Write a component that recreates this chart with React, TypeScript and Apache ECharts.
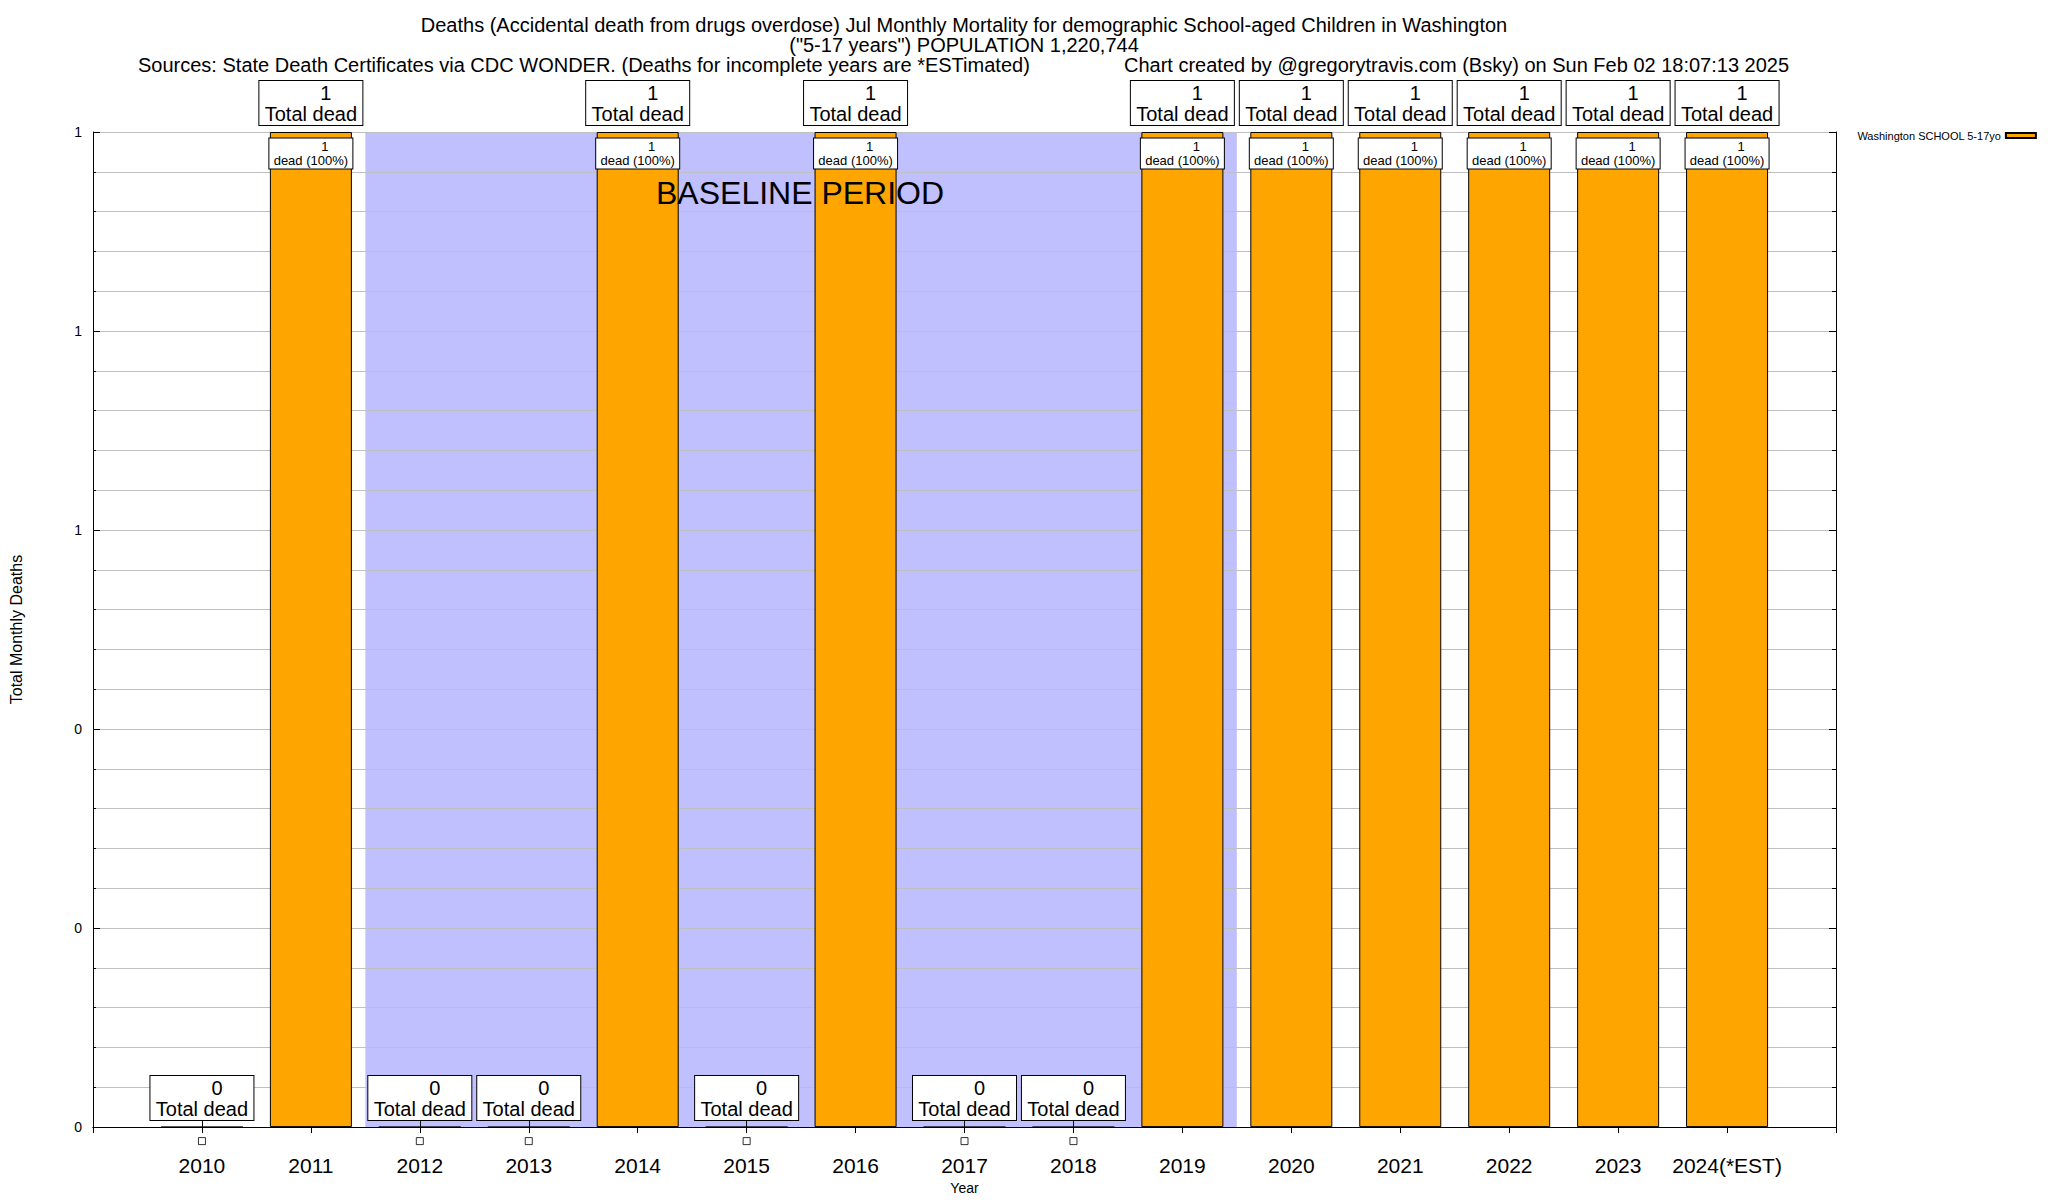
import React, { useEffect, useRef } from "react";
import * as echarts from "echarts";

const YEARS = [2010, 2011, 2012, 2013, 2014, 2015, 2016, 2017, 2018, 2019, 2020, 2021, 2022, 2023, 2024];
const DEATHS = [0, 1, 0, 0, 1, 0, 1, 0, 0, 1, 1, 1, 1, 1, 1];
const SHARE_LABELS = ["", "100%", "", "", "100%", "", "100%", "", "", "100%", "100%", "100%", "100%", "100%", "100%"];
const BASELINE_START = 2011.5;
const BASELINE_END = 2019.5;
const X_MIN = 2009;
const X_MAX = 2025;
const EST_YEAR = 2024;

const TITLE_1 = "Deaths (Accidental death from drugs overdose) Jul Monthly Mortality for demographic School-aged Children in Washington";
const TITLE_2 = '("5-17 years") POPULATION 1,220,744';
const TITLE_3A = "Sources: State Death Certificates via CDC WONDER. (Deaths for incomplete years are *ESTimated)";
const TITLE_3B = "Chart created by @gregorytravis.com (Bsky) on Sun Feb 02 18:07:13 2025";
const SERIES_NAME = "Washington SCHOOL 5-17yo";

const FONT = "'Liberation Sans', Arial, Helvetica, sans-serif";

export default function App() {
  const ref = useRef<HTMLDivElement>(null);
  useEffect(() => {
    if (!ref.current) return;
    const chart = echarts.init(ref.current, undefined, { renderer: "svg" });

    const barData = YEARS.map((y, i) => ({
      value: [y, DEATHS[i]],
      label: { show: DEATHS[i] > 0 },
    }));
    const boxData = YEARS.map((y, i) => [y, DEATHS[i]]);
    const zeroData = YEARS.filter((_, i) => DEATHS[i] === 0).map((y) => [y, 0]);

    const axisLineStyle = { show: true, lineStyle: { color: "#000", width: 1 } };
    const gridColor = "#c0c0c0";

    const option: any = {
      animation: false,
      textStyle: { fontFamily: FONT, color: "#000" },
      grid: { left: 92, top: 132, width: 1744, height: 1000, containLabel: false },
      legend: {
        show: true,
        data: [SERIES_NAME],
        left: 1857,
        top: 130,
        padding: 0,
        align: "right",
        itemWidth: 30,
        itemHeight: 5,
        itemGap: 5,
        icon: "rect",
        textStyle: { fontSize: 11, color: "#000", fontFamily: FONT },
        selectedMode: false,
      },
      xAxis: [
        {
          type: "value",
          position: "bottom",
          min: X_MIN,
          max: X_MAX,
          interval: 1,
          axisLine: axisLineStyle,
          axisTick: { show: true, inside: true, length: 6, lineStyle: { color: "#000" } },
          splitLine: { show: false },
          axisLabel: {
            fontSize: 21,
            color: "#000",
            fontFamily: FONT,
            margin: 28,
            formatter: (v: number) =>
              v === X_MIN || v === X_MAX ? "" : v === EST_YEAR ? `${v}(*EST)` : String(v),
          },
          name: "Year",
          nameLocation: "middle",
          nameGap: 49,
          nameTextStyle: { fontSize: 14, color: "#000", fontFamily: FONT },
        },
        {
          type: "value",
          position: "top",
          min: X_MIN,
          max: X_MAX,
          interval: 1,
          axisLine: axisLineStyle,
          axisTick: { show: true, inside: true, length: 6, lineStyle: { color: "#000" } },
          splitLine: { show: false },
          axisLabel: { show: false },
        },
      ],
      yAxis: [
        {
          type: "value",
          position: "left",
          min: 0,
          max: 1,
          interval: 0.2,
          axisLine: axisLineStyle,
          axisTick: { show: true, inside: true, length: 7, lineStyle: { color: "#000" } },
          minorTick: { show: true, splitNumber: 5, length: 3, lineStyle: { color: "#000" } },
          splitLine: { show: true, lineStyle: { color: gridColor, width: 1 } },
          minorSplitLine: { show: true, lineStyle: { color: gridColor, width: 1 } },
          axisLabel: {
            fontSize: 14,
            color: "#000",
            fontFamily: FONT,
            margin: 11,
            formatter: (v: number) => String(Math.round(v)),
          },
          name: "Total Monthly Deaths",
          nameLocation: "middle",
          nameGap: 69,
          nameTextStyle: { fontSize: 16, color: "#000", fontFamily: FONT },
        },
        {
          type: "value",
          position: "right",
          min: 0,
          max: 1,
          interval: 0.2,
          axisLine: axisLineStyle,
          axisTick: { show: true, inside: true, length: 7, lineStyle: { color: "#000" } },
          minorTick: { show: true, splitNumber: 5, length: 4, lineStyle: { color: "#000" } },
          splitLine: { show: false },
          axisLabel: { show: false },
        },
      ],
      series: [
        {
          type: "custom",
          name: "baseline",
          xAxisIndex: 0,
          yAxisIndex: 0,
          z: -1,
          silent: true,
          data: [[BASELINE_START, BASELINE_END]],
          renderItem: (params: any, api: any) => {
            const p0 = api.coord([api.value(0), 1]);
            const p1 = api.coord([api.value(1), 0]);
            return {
              type: "rect",
              shape: { x: p0[0], y: p0[1], width: p1[0] - p0[0], height: p1[1] - p0[1] },
              style: { fill: "#c0c0ff" },
            };
          },
        },
        {
          type: "bar",
          name: SERIES_NAME,
          xAxisIndex: 0,
          yAxisIndex: 0,
          barWidth: 82,
          z: 2,
          itemStyle: { color: "#ffa500", borderColor: "#000", borderWidth: 1 },
          data: barData,
          label: {
            position: "insideTop",
            distance: 6.5,
            color: "#000",
            textBorderWidth: 0,
            textBorderColor: "transparent",
            opacity: 1,
            formatter: (p: any) =>
              `{n|${p.value[1]}}\n{t|dead (${SHARE_LABELS[p.dataIndex]})}`,
            backgroundColor: "#fff",
            borderColor: "#000",
            borderWidth: 1,
            width: 81,
            padding: [1, 1, 1, 1],
            align: "center",
            rich: {
              n: { fontSize: 13, lineHeight: 14, color: "#000", fontFamily: FONT, padding: [0, 0, 0, 28], textBorderWidth: 0 },
              t: { fontSize: 13, lineHeight: 14, color: "#000", fontFamily: FONT, textBorderWidth: 0 },
            },
          },
        },
        {
          type: "scatter",
          name: "totals",
          xAxisIndex: 0,
          yAxisIndex: 0,
          symbol: "circle",
          symbolSize: 1,
          clip: false,
          z: 5,
          itemStyle: { color: "rgba(0,0,0,0)" },
          data: boxData,
          label: {
            show: true,
            position: "top",
            distance: 6.5,
            color: "#000",
            textBorderWidth: 0,
            textBorderColor: "transparent",
            opacity: 1,
            formatter: (p: any) => `{n|${p.value[1]}}\n{t|Total dead}`,
            backgroundColor: "#fff",
            borderColor: "#000",
            borderWidth: 1,
            width: 97,
            padding: [1, 3, 1, 3],
            align: "center",
            rich: {
              n: { fontSize: 20, lineHeight: 21, color: "#000", fontFamily: FONT, padding: [0, 0, 0, 30], textBorderWidth: 0 },
              t: { fontSize: 20, lineHeight: 21, color: "#000", fontFamily: FONT, textBorderWidth: 0 },
            },
          },
        },
        {
          type: "scatter",
          name: "zeros",
          xAxisIndex: 0,
          yAxisIndex: 0,
          symbol: "rect",
          symbolSize: 7,
          symbolOffset: [0, 14],
          clip: false,
          z: 5,
          itemStyle: { color: "#fff", borderColor: "#000", borderWidth: 1 },
          data: zeroData,
        },
      ],
      graphic: [
        {
          type: "text",
          x: 964,
          y: 25,
          style: { text: TITLE_1, fontSize: 20, fontFamily: FONT, fill: "#000", align: "center", verticalAlign: "middle" },
        },
        {
          type: "text",
          x: 964,
          y: 45,
          style: { text: TITLE_2, fontSize: 20, fontFamily: FONT, fill: "#000", align: "center", verticalAlign: "middle" },
        },
        {
          type: "text",
          x: 138,
          y: 65,
          style: { text: TITLE_3A, fontSize: 20, fontFamily: FONT, fill: "#000", align: "left", verticalAlign: "middle" },
        },
        {
          type: "text",
          x: 1124,
          y: 65,
          style: { text: TITLE_3B, fontSize: 20, fontFamily: FONT, fill: "#000", align: "left", verticalAlign: "middle" },
        },
        {
          type: "text",
          x: 656,
          y: 193,
          z: 100,
          style: { text: "BASELINE PERIOD", fontSize: 32, fontFamily: FONT, fill: "#000", align: "left", verticalAlign: "middle" },
        },
      ],
    };

    chart.setOption(option);
    return () => chart.dispose();
  }, []);

  return (
    <div
      ref={ref}
      style={{ position: "fixed", left: 0, top: 0, width: 2048, height: 1200, background: "#fff" }}
    />
  );
}
